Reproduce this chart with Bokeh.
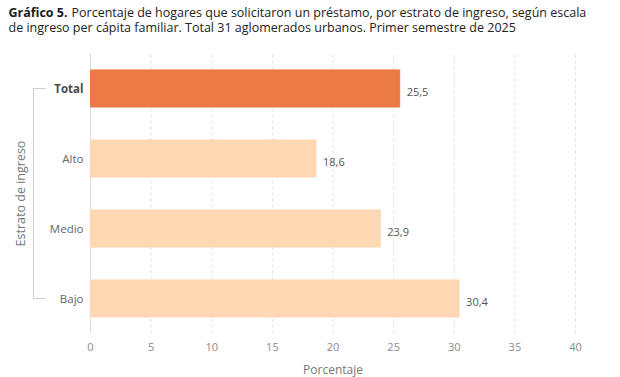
from math import pi
from bokeh.plotting import figure
from bokeh.models import Label, ColumnDataSource, Range1d
from bokeh.embed import file_html
from bokeh.resources import INLINE
from bokeh.core.properties import value

# ---- data ----
categories = ["Total", "Alto", "Medio", "Bajo"]
values = [25.5, 18.6, 23.9, 30.4]
bar_colors = ["#eb7a45", "#fdd8b2", "#fdd8b2", "#fdd8b2"]
x_ticks = [0, 5, 10, 15, 20, 25, 30, 35, 40]
title_bold = "Gráfico 5."
title_line1 = "Porcentaje de hogares que solicitaron un préstamo, por estrato de ingreso, según escala"
title_line2 = "de ingreso per cápita familiar. Total 31 aglomerados urbanos. Primer semestre de 2025"
x_label = "Porcentaje"
y_label = "Estrato de ingreso"

# ---- layout (pixels) ----
W, H = 620, 377
PLOT_LEFT, PLOT_RIGHT = 90, 575
BAND_TOP, BAND_BOTTOM = 53, 333
FONT = "Open Sans"

n = len(categories)
x_min, x_max = x_ticks[0], x_ticks[-1]
kx = (PLOT_RIGHT - PLOT_LEFT) / (x_max - x_min)          # px per % unit
ky = (BAND_BOTTOM - BAND_TOP) / n                         # px per category band
x_range = Range1d(x_min - PLOT_LEFT / kx, x_max + (W - PLOT_RIGHT) / kx)
y_range = Range1d(-0.5 - (H - BAND_BOTTOM) / ky, n - 0.5 + BAND_TOP / ky)

# category index positions (first category at top)
ypos = [n - 1 - i for i in range(n)]
value_labels = [f"{v:.1f}".replace(".", ",") for v in values]
styles = ["bold" if i == 0 else "normal" for i in range(n)]
cat_colors = ["#4a4a4a" if i == 0 else "#666666" for i in range(n)]

src = ColumnDataSource(dict(cat=categories, y=ypos, val=values, color=bar_colors,
                            lbl=value_labels, style=styles, ccol=cat_colors))

p = figure(width=W, height=H, x_range=x_range, y_range=y_range,
           x_axis_type=None, y_axis_type=None,
           output_backend="svg", toolbar_location=None, min_border=0)
p.outline_line_color = None
p.grid.visible = False
p.background_fill_color = "white"
p.border_fill_color = "white"

band_lo, band_hi = -0.5, n - 0.5

# vertical dashed grid lines and solid zero line
grid_x = [t for t in x_ticks if t != x_min]
p.segment(x0=grid_x, y0=[band_lo] * len(grid_x), x1=grid_x, y1=[band_hi] * len(grid_x),
          line_color="#e2e2e2", line_width=1, line_dash="3 3")
p.segment(x0=[x_min], y0=[band_lo], x1=[x_min], y1=[band_hi],
          line_color="#dcdcdc", line_width=1)

# bars
p.hbar(y="y", right="val", left=x_min, height=0.53, color="color", source=src)

# value labels
p.text(x="val", y="y", text="lbl", x_offset=7, y_offset=3,
       text_baseline="middle", text_align="left",
       text_font=value(FONT), text_font_size="11px", text_color="#555555",
       source=src)

# category labels (y axis)
p.text(x=x_min, y="y", text="cat", x_offset=-7, text_align="right",
       text_baseline="middle", text_font=value(FONT), text_font_size="11.5px",
       text_font_style="style", text_color="ccol", source=src)

# x tick labels
p.text(x=x_ticks, y=[band_lo] * len(x_ticks), text=[str(t) for t in x_ticks],
       y_offset=13, text_align="center", text_baseline="middle",
       text_font=value(FONT), text_font_size="11px", text_color="#8a8a8a")

# x axis title
p.text(x=[(x_min + x_max) / 2], y=[band_lo], text=[x_label], y_offset=36,
       text_align="center", text_baseline="middle",
       text_font=value(FONT), text_font_size="12px", text_color="#777777")

# y axis title (rotated)
p.text(x=[x_min], y=[(n - 1) / 2], text=[y_label], x_offset=-70, angle=pi / 2,
       text_align="center", text_baseline="middle",
       text_font=value(FONT), text_font_size="12.5px", text_color="#777777")

# bracket grouping the categories
bx_in = x_min - 45 / kx
bx_out = x_min - 57 / kx
p.line(x=[bx_in, bx_out, bx_out, bx_in], y=[ypos[0], ypos[0], ypos[-1], ypos[-1]],
       line_color="#cccccc", line_width=1)

# title
p.add_layout(Label(x=8, y=H - 12, x_units="screen", y_units="screen", text=title_bold,
                   text_font=FONT, text_font_style="bold", text_font_size="12.5px",
                   text_color="#1a1a1a", text_baseline="middle"))
p.add_layout(Label(x=71, y=H - 12, x_units="screen", y_units="screen", text=title_line1,
                   text_font=FONT, text_font_size="12.5px",
                   text_color="#222222", text_baseline="middle"))
p.add_layout(Label(x=8, y=H - 27, x_units="screen", y_units="screen", text=title_line2,
                   text_font=FONT, text_font_size="12.5px",
                   text_color="#222222", text_baseline="middle"))

open("out.html", "w").write(file_html(p, INLINE))
